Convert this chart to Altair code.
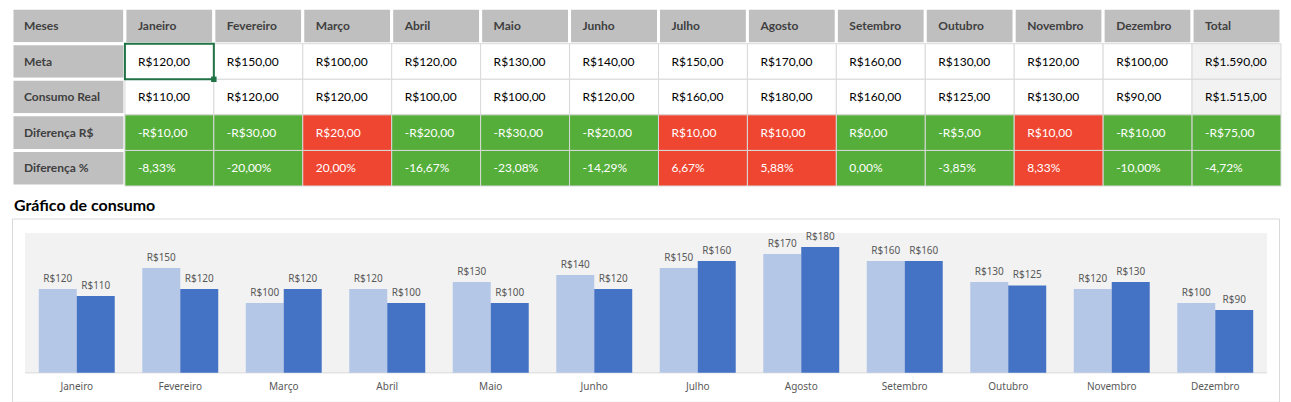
import altair as alt
import pandas as pd

meses = ["Janeiro", "Fevereiro", "Março", "Abril", "Maio", "Junho", "Julho",
         "Agosto", "Setembro", "Outubro", "Novembro", "Dezembro"]
meta = [120, 150, 100, 120, 130, 140, 150, 170, 160, 130, 120, 100]
consumo = [110, 120, 120, 100, 100, 120, 160, 180, 160, 125, 130, 90]
dif_rs = [-10, -30, 20, -20, -30, -20, 10, 10, 0, -5, 10, -10]
dif_pct = [-8.33, -20.00, 20.00, -16.67, -23.08, -14.29, 6.67, 5.88, 0.00, -3.85, 8.33, -10.00]
total_meta = 1590
total_consumo = 1515
total_dif_rs = -75
total_dif_pct = -4.72
linhas = ["Meses", "Meta", "Consumo Real", "Diferença R$", "Diferença %"]
series = ["Meta", "Consumo Real"]
colunas = meses + ["Total"]
eixo_min = [0]
eixo_max = [200]


def brl(v):
    s = f"{abs(v):,.2f}".replace(",", "X").replace(".", ",").replace("X", ".")
    return ("-" if v < 0 else "") + "R$" + s


def pct(v):
    return f"{v:.2f}".replace(".", ",") + "%"


def sign_kind(v):
    return "red" if v > 0 else "green"


# ---------- table data ----------
rows = []
all_meta = meta + [total_meta]
all_cons = consumo + [total_consumo]
all_drs = dif_rs + [total_dif_rs]
all_dpct = dif_pct + [total_dif_pct]
for i, c in enumerate(colunas):
    body = "total" if c == "Total" else "white"
    rows.append({"col": c, "row": "Meses", "txt": c, "kind": "header"})
    rows.append({"col": c, "row": "Meta", "txt": brl(all_meta[i]), "kind": body})
    rows.append({"col": c, "row": "Consumo Real", "txt": brl(all_cons[i]), "kind": body})
    rows.append({"col": c, "row": "Diferença R$", "txt": brl(all_drs[i]), "kind": sign_kind(all_drs[i])})
    rows.append({"col": c, "row": "Diferença %", "txt": pct(all_dpct[i]), "kind": sign_kind(all_dpct[i])})
grid_df = pd.DataFrame(rows)
label_df = pd.DataFrame({"row": linhas, "txt": linhas})
sel_df = pd.DataFrame({"col": ["Janeiro"], "row": ["Meta"]})

kind_dom = ["header", "white", "total", "green", "red"]
kind_fill = ["#BFBFBF", "#FFFFFF", "#F2F2F2", "#55AE3A", "#EF4631"]
kind_txt = ["#404040", "#000000", "#000000", "#FFFFFF", "#FFFFFF"]

TW = 1157
TH = 178
FONT = "Lato"
FS = 12

xs = alt.X("col:N", sort=colunas, axis=None, scale=alt.Scale(paddingInner=0, paddingOuter=0))
ys = alt.Y("row:N", sort=linhas, axis=None, scale=alt.Scale(paddingInner=0, paddingOuter=0))

base = alt.Chart(grid_df)
hdr_rect = base.transform_filter("datum.kind == 'header'").mark_rect(
    fill="#BFBFBF", stroke="#FFFFFF", strokeWidth=3).encode(x=xs, y=ys)
body_rect = base.transform_filter("datum.kind != 'header'").mark_rect(
    stroke="#D9D9D9", strokeWidth=1).encode(
    x=xs, y=ys,
    fill=alt.Fill("kind:N", scale=alt.Scale(domain=kind_dom, range=kind_fill), legend=None))
hdr_txt = base.transform_filter("datum.kind == 'header'").mark_text(
    align="left", baseline="middle", dx=13, font=FONT, fontSize=FS,
    fontWeight="bold", color="#404040").encode(
    x=alt.X("col:N", sort=colunas, axis=None, bandPosition=0), y=ys, text="txt:N")
body_txt = base.transform_filter("datum.kind != 'header'").mark_text(
    align="left", baseline="middle", dx=13, font=FONT, fontSize=FS).encode(
    x=alt.X("col:N", sort=colunas, axis=None, bandPosition=0), y=ys, text="txt:N",
    color=alt.Color("kind:N", scale=alt.Scale(domain=kind_dom, range=kind_txt), legend=None))
sel_rect = alt.Chart(sel_df).mark_rect(fill="transparent", stroke="#217346", strokeWidth=2).encode(x=xs, y=ys)
sel_sq = alt.Chart(sel_df).mark_square(size=30, color="#217346", opacity=1).encode(
    x=alt.X("col:N", sort=colunas, axis=None, bandPosition=1),
    y=alt.Y("row:N", sort=linhas, axis=None, bandPosition=1))

grid = alt.layer(hdr_rect, body_rect, hdr_txt, body_txt, sel_rect, sel_sq).resolve_scale(
    color="independent").properties(width=TW, height=TH)

lab_y = alt.Y("row:N", sort=linhas, axis=None, scale=alt.Scale(paddingInner=0, paddingOuter=0))
lab_rect = alt.Chart(label_df).mark_rect(fill="#BFBFBF", stroke="#FFFFFF", strokeWidth=3).encode(
    y=lab_y, x=alt.value(0), x2=alt.value(113))
lab_txt = alt.Chart(label_df).mark_text(
    align="left", baseline="middle", font=FONT, fontSize=FS, fontWeight="bold",
    color="#404040").encode(y=lab_y, x=alt.value(12), text="txt:N")
labels = alt.layer(lab_rect, lab_txt).properties(width=113, height=TH)

table = alt.hconcat(labels, grid, spacing=0, bounds="flush")

# ---------- bar chart ----------
bar_rows = []
for i, m in enumerate(meses):
    bar_rows.append({"mes": m, "serie": "Meta", "valor": meta[i], "lbl": f"R${meta[i]}"})
    bar_rows.append({"mes": m, "serie": "Consumo Real", "valor": consumo[i], "lbl": f"R${consumo[i]}"})
bar_df = pd.DataFrame(bar_rows)
eixo_df = pd.DataFrame({"lo": eixo_min, "hi": eixo_max})

BW = 1269   # whole chart box (frame) width
BH = 205    # from title to bottom of frame
BOTTOM = 30  # px between baseline and frame bottom
Y_DOMAIN = [-BOTTOM / 0.7, 250]

bx = alt.X("mes:N", sort=meses, title=None,
           scale=alt.Scale(paddingInner=0.266, paddingOuter=0.2587),
           axis=alt.Axis(labelAngle=0, ticks=False, domain=False, offset=-BOTTOM, zindex=1,
                         labelFont="Noto Sans", labelFontSize=10, labelColor="#595959",
                         labelPadding=9, grid=False))
bxo = alt.XOffset("serie:N", sort=series)
yscale = alt.Scale(domain=Y_DOMAIN, nice=False)
by = alt.Y("valor:Q", scale=yscale, axis=None)

frame = alt.Chart(eixo_df).mark_rect(fill="transparent", stroke="#D9D9D9", strokeWidth=1).encode(
    x=alt.value(0.5), x2=alt.value(BW - 0.5), y=alt.value(21), y2=alt.value(BH - 0.5))
plotbg = alt.Chart(eixo_df).mark_rect(fill="#F2F2F2").encode(
    x=alt.value(13), x2=alt.value(BW - 13),
    y=alt.Y("hi:Q", scale=yscale, axis=None), y2="lo:Q")
baseline = alt.Chart(eixo_df).mark_rule(color="#D9D9D9", strokeWidth=1).encode(
    x=alt.value(13), x2=alt.value(BW - 13), y=alt.Y("lo:Q", scale=yscale, axis=None))
bars = alt.Chart(bar_df).mark_bar().encode(
    x=bx, xOffset=bxo, y=by,
    color=alt.Color("serie:N", sort=series,
                    scale=alt.Scale(domain=series, range=["#B4C7E7", "#4472C4"]), legend=None))
blabels = alt.Chart(bar_df).mark_text(
    baseline="bottom", dy=-5, font="Noto Sans", fontSize=10, color="#595959").encode(
    x=bx, xOffset=bxo, y=by, text="lbl:N")
title = alt.Chart(eixo_df).mark_text(
    text="Gráfico de consumo", align="left", baseline="alphabetic", font=FONT,
    fontSize=16, fontWeight="bold", color="#000000").encode(x=alt.value(2), y=alt.value(13))

barchart = alt.layer(frame, plotbg, baseline, bars, blabels, title).properties(
    width=BW, height=BH)

chart = alt.vconcat(table, barchart, spacing=10).properties(
    padding={"left": 2, "top": -2, "right": 0, "bottom": 0}
).configure_view(strokeWidth=0)

chart.save("out.html", embed_options={"renderer": "svg", "actions": False})
